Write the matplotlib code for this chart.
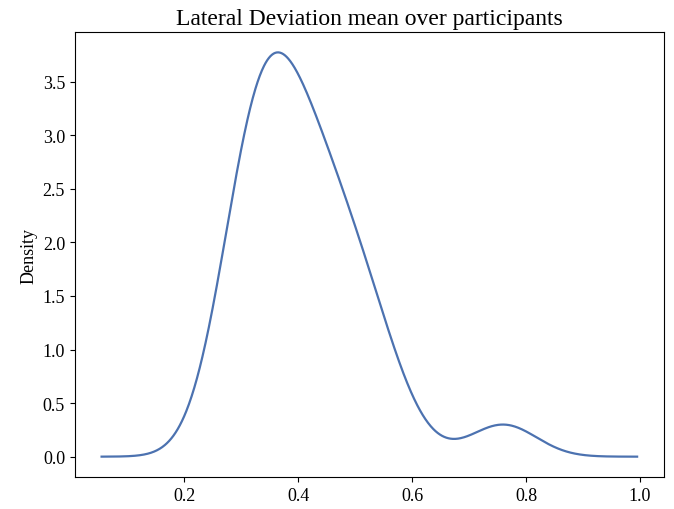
import numpy as np
import matplotlib
matplotlib.use('Agg')
import matplotlib.pyplot as plt
from matplotlib.ticker import MultipleLocator, FormatStrFormatter

plt.rcParams['font.family'] = ['Liberation Serif', 'DejaVu Serif']

# Mean lateral deviation per participant
lateral_dev_mean = [
    0.29, 0.30, 0.30, 0.31, 0.32, 0.33, 0.34, 0.35, 0.36, 0.37,
    0.38, 0.39, 0.40, 0.41, 0.43, 0.44, 0.46, 0.47, 0.49, 0.51,
    0.53, 0.56, 0.76,
]

data = np.asarray(lateral_dev_mean)

# Gaussian KDE with Scott's bandwidth (same as pandas .plot.kde)
n = len(data)
bw = data.std(ddof=1) * n ** (-1 / 5)
span = data.max() - data.min()
xs = np.linspace(data.min() - 0.5 * span, data.max() + 0.5 * span, 1000)
dens = np.exp(-0.5 * ((xs[:, None] - data[None, :]) / bw) ** 2).sum(axis=1)
dens /= n * bw * np.sqrt(2 * np.pi)

fig, ax = plt.subplots(figsize=(6.74, 5.10), dpi=100)
fig.subplots_adjust(left=0.111, right=0.985, top=0.935, bottom=0.063)
ax.plot(xs, dens, color='#4C72B0', linewidth=1.6)
ax.set_title('Lateral Deviation mean over participants', fontsize=17)
ax.set_ylabel('Density', fontsize=13)
ax.yaxis.set_major_locator(MultipleLocator(0.5))
ax.yaxis.set_major_formatter(FormatStrFormatter('%.1f'))
ax.tick_params(labelsize=13)
fig.savefig('out.png')
plt.close(fig)
